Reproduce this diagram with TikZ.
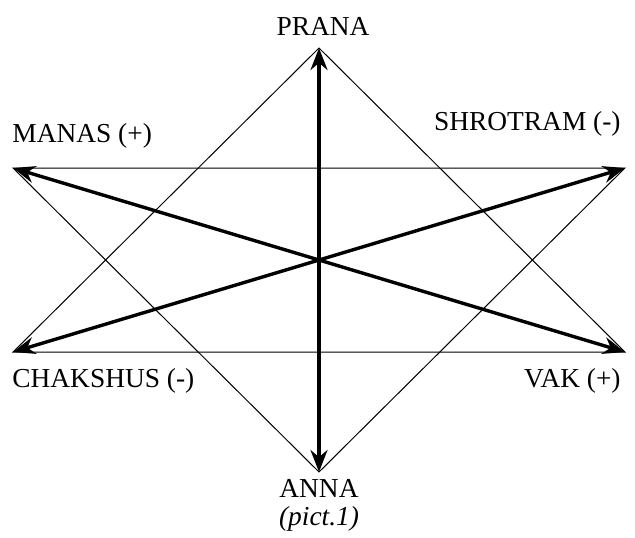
\documentclass[tikz,border=0pt]{standalone}
\usepackage{fontspec}
\setmainfont{Liberation Serif}
\usepackage{tikz}
\usetikzlibrary{arrows.meta}
\tikzset{every node/.append style={font=\fontsize{13.7}{16}\selectfont, inner sep=0pt}}
\tikzset{
    fine/.style={line width=0.5pt},
    axis/.style={line width=1.7pt, {Stealth[length=11pt,width=8.5pt]}-{Stealth[length=11pt,width=8.5pt]}}
}

\begin{document}
\begin{tikzpicture}[x=0.5pt, y=-0.5pt]
    \useasboundingbox (0,0) rectangle (635,537);
    % corner points of the star
    \coordinate (prana) at (319,48);
    \coordinate (anna) at (319,472);
    \coordinate (manas) at (13,168);
    \coordinate (shrotram) at (625,168);
    \coordinate (chakshus) at (13,352);
    \coordinate (vak) at (625,352);
    % the two triangles
    \draw[fine] (prana) -- (chakshus) -- (vak) -- cycle;
    \draw[fine] (anna) -- (manas) -- (shrotram) -- cycle;
    % the three axes
    \draw[axis] (anna) -- (prana);
    \draw[axis] (manas) -- (vak);
    \draw[axis] (chakshus) -- (shrotram);
    % labels
    \node[anchor=base] (lprana) at (323,35) {PRANA};
    \node[anchor=base west] (lmanas) at (12,142) {MANAS (+)};
    \node[anchor=base east] (lshrotram) at (621,130) {SHROTRAM (-)};
    \node[anchor=base west] (lchakshus) at (12,387) {CHAKSHUS (-)};
    \node[anchor=base east] (lvak) at (621,387) {VAK (+)};
    \node[anchor=base] (lanna) at (319,497) {ANNA};
    \node[anchor=base] (lpict) at (319,525) {\itshape (pict.1)};
\end{tikzpicture}
\end{document}
